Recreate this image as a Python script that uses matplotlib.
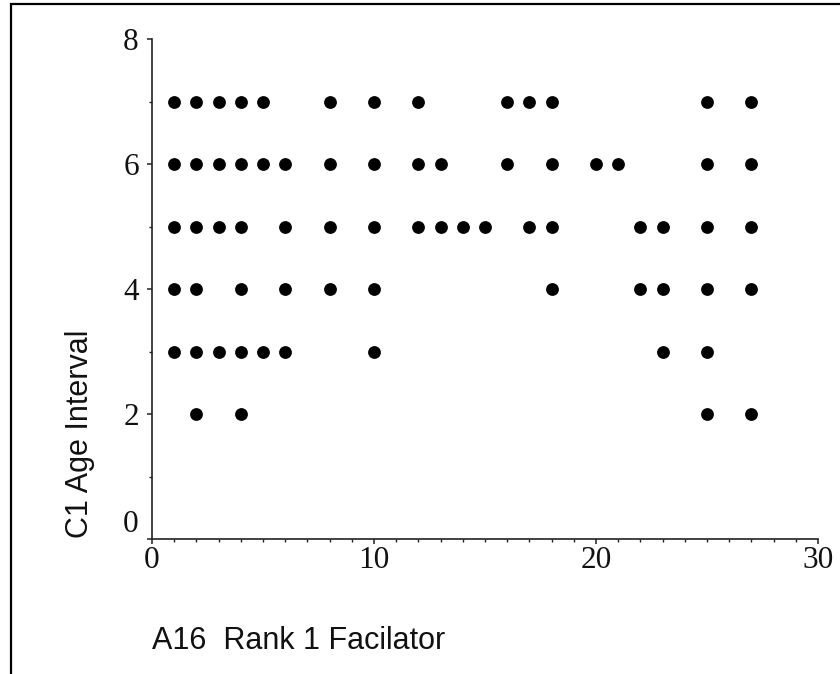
import matplotlib
matplotlib.use("Agg")
import matplotlib.pyplot as plt
from matplotlib.patches import Rectangle
from matplotlib.ticker import MultipleLocator
from matplotlib.transforms import ScaledTranslation

# Facilitator ranks (x) observed at each C1 age interval (y)
ranks_at_7 = [1, 2, 3, 4, 5, 8, 10, 12, 16, 17, 18, 25, 27]
ranks_at_6 = [1, 2, 3, 4, 5, 6, 8, 10, 12, 13, 16, 18, 20, 21, 25, 27]
ranks_at_5 = [1, 2, 3, 4, 6, 8, 10, 12, 13, 14, 15, 17, 18, 22, 23, 25, 27]
ranks_at_4 = [1, 2, 4, 6, 8, 10, 18, 22, 23, 25, 27]
ranks_at_3 = [1, 2, 3, 4, 5, 6, 10, 23, 25]
ranks_at_2 = [2, 4, 25, 27]

rows = {7: ranks_at_7, 6: ranks_at_6, 5: ranks_at_5,
        4: ranks_at_4, 3: ranks_at_3, 2: ranks_at_2}
xs, ys = [], []
for age, ranks in rows.items():
    xs.extend(ranks)
    ys.extend([age] * len(ranks))

x_ticks = [0, 10, 20, 30]
y_ticks = [0, 2, 4, 6, 8]

W, H, DPI = 840, 674, 100
fig = plt.figure(figsize=(W / DPI, H / DPI), dpi=DPI)
fig.patch.set_facecolor("white")

ax = fig.add_axes([152 / W, 1 - 539 / H, 666 / W, 500 / H])
ax.scatter(xs, ys, s=85, color="black", marker="o", linewidths=0, zorder=3)

ax.set_xlim(0, 30)
ax.set_ylim(0, 8)
ax.set_xticks(x_ticks)
ax.set_yticks(y_ticks)
ax.xaxis.set_minor_locator(MultipleLocator(1))
ax.yaxis.set_minor_locator(MultipleLocator(1))

for s in ["top", "right"]:
    ax.spines[s].set_visible(False)
for s in ["left", "bottom"]:
    ax.spines[s].set_linewidth(1.2)
    ax.spines[s].set_color("#222222")

ax.tick_params(which="major", direction="out", length=3.5, width=1.1,
               color="#222222", labelsize=22.5)
ax.tick_params(which="minor", direction="out", length=2.5, width=1.0,
               color="#222222")
ax.tick_params(axis="y", which="major", pad=6)
ax.tick_params(axis="x", which="major", pad=1.5)

for lab in ax.get_xticklabels() + ax.get_yticklabels():
    lab.set_fontfamily("Liberation Serif")
    lab.set_color("#111111")

fig.canvas.draw()
ylabs = ax.get_yticklabels()
ylabs[0].set_transform(ylabs[0].get_transform()
                       + ScaledTranslation(0, 18 / DPI, fig.dpi_scale_trans))

ax.set_ylabel("C1 Age Interval", fontsize=22, family="Liberation Sans",
              color="#111111")
ax.yaxis.label.set_va("center")
ax.yaxis.label.set_ha("center")
ax.yaxis.set_label_coords((80 - 152) / 666, (539 - 434) / 500)

ax.set_xlabel("A16  Rank 1 Facilator", fontsize=22, family="Liberation Sans",
              color="#111111", loc="left")
ax.xaxis.label.set_va("center")
ax.xaxis.label.set_ha("left")
ax.xaxis.set_label_coords(0, (539 - 641) / 500)

# outer frame (left and top edges visible)
fig.add_artist(Rectangle((11 / W, -0.5), 1.2, 1.5 - 4 / H,
                         transform=fig.transFigure, fill=False,
                         edgecolor="black", linewidth=1.6))

fig.savefig("out.png", dpi=DPI, facecolor="white")
